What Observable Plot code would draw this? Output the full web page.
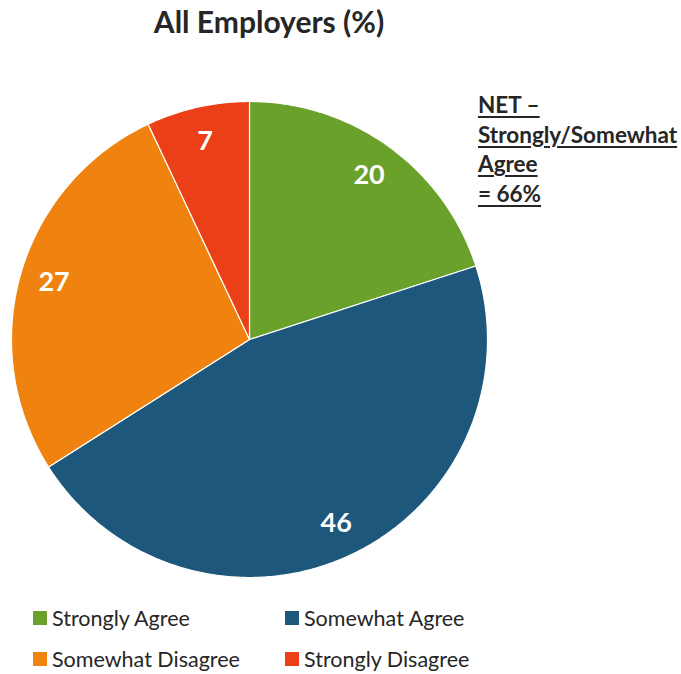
<!DOCTYPE html>
<html>
<head>
<meta charset="utf-8">
<script src="https://cdn.jsdelivr.net/npm/d3@7"></script>
<script src="https://cdn.jsdelivr.net/npm/@observablehq/plot@0.6"></script>
<style>
  html, body { margin: 0; padding: 0; background: #fff; }
  body { width: 681px; height: 674px; overflow: hidden; font-family: Lato, "Open Sans", sans-serif; }
  #wrap { position: relative; width: 681px; height: 674px; }
  #title { position: absolute; left: 0; top: 3px; width: 538px; text-align: center; font-weight: 700; font-size: 30px; color: #262626; }
  #chart { position: absolute; left: 0; top: 50px; }
  #net { position: absolute; left: 478px; top: 90px; font-weight: 700; font-size: 22.5px; line-height: 29.5px; color: #262626; text-decoration: underline; text-underline-offset: 3px; white-space: nowrap; }
  #legend { position: absolute; left: 33px; top: 604px; display: grid; grid-template-columns: 252px 240px; row-gap: 13px; font-size: 21.5px; line-height: 26px; color: #262626; }
  .item { display: flex; align-items: center; height: 28px; }
  .sw { width: 14px; height: 14px; margin-right: 5px; flex: none; }
</style>
</head>
<body>
<div id="wrap">
  <div id="title">All Employers (%)</div>
  <div id="chart"></div>
  <div id="net">NET –<br>Strongly/Somewhat<br>Agree<br>= 66%</div>
  <div id="legend"></div>
</div>
<script>
const categories = ["Strongly Agree", "Somewhat Agree", "Somewhat Disagree", "Strongly Disagree"];
const values = [20, 46, 27, 7];
const colors = ["#6AA12A", "#1D587C", "#F0820F", "#EA3F17"];

const rows = categories.map((c, i) => ({category: c, value: values[i]}));
const pie = d3.pie().sort(null).value(d => d.value)(rows);

// polygon points (unit circle, angle measured clockwise from 12 o'clock)
const pts = [];
for (const a of pie) {
  const n = Math.max(2, Math.ceil((a.endAngle - a.startAngle) / 0.01));
  pts.push({category: a.data.category, x: 0, y: 0});
  for (let k = 0; k <= n; k++) {
    const t = a.startAngle + (a.endAngle - a.startAngle) * k / n;
    pts.push({category: a.data.category, x: Math.sin(t), y: Math.cos(t)});
  }
  pts.push({category: a.data.category, x: 0, y: 0});
}
const labels = pie.map(a => {
  const m = (a.startAngle + a.endAngle) / 2;
  return {category: a.data.category, value: a.data.value, x: 0.855 * Math.sin(m), y: 0.855 * Math.cos(m)};
});

const chart = Plot.plot({
  width: 681,
  height: 550,
  marginLeft: 11,
  marginRight: 194,
  marginTop: 51,
  marginBottom: 23,
  x: {domain: [-1, 1], axis: null},
  y: {domain: [-1, 1], axis: null},
  color: {domain: categories, range: colors},
  marks: [
    Plot.line(pts, {x: "x", y: "y", z: "category", fill: "category", stroke: "white", strokeWidth: 1.2, curve: "linear"}),
    Plot.text(labels, {x: "x", y: "y", text: d => String(d.value), fill: "white", fontSize: 27, fontWeight: "bold", fontFamily: "Lato, 'Open Sans', sans-serif"})
  ]
});
document.getElementById("chart").appendChild(chart);

const legend = document.getElementById("legend");
categories.forEach((c, i) => {
  const it = document.createElement("div");
  it.className = "item";
  it.innerHTML = `<span class="sw" style="background:${colors[i]}"></span><span>${c}</span>`;
  legend.appendChild(it);
});
</script>
</body>
</html>
